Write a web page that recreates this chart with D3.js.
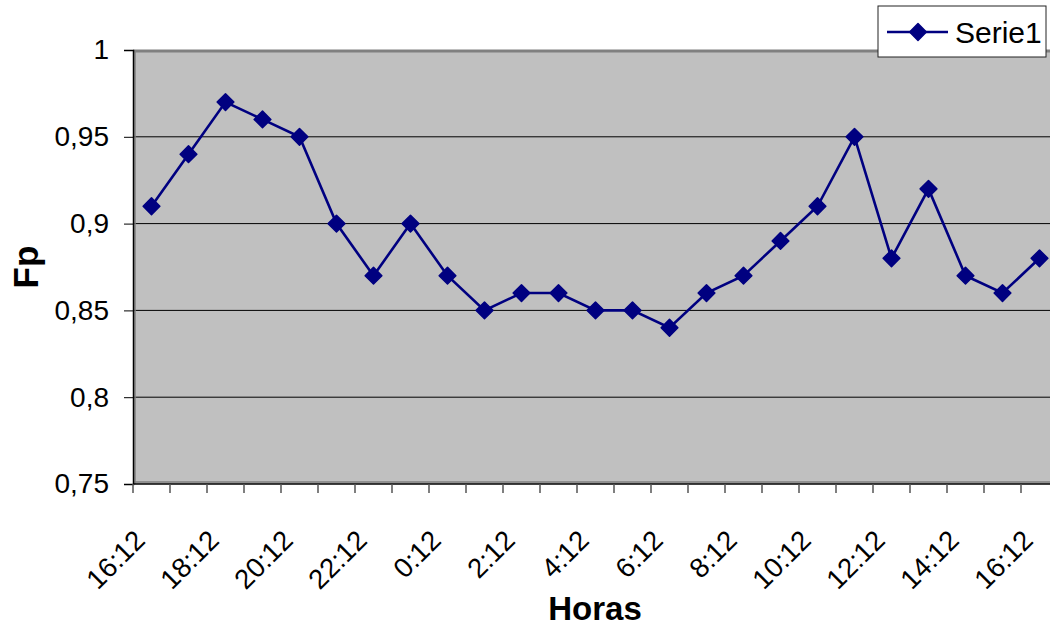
<!DOCTYPE html>
<html>
<head>
<meta charset="utf-8">
<script src="https://cdn.jsdelivr.net/npm/d3@7"></script>
<style>
  body { margin: 0; background: #fff; }
  text { font-family: "Liberation Sans", Arial, sans-serif; }
</style>
</head>
<body>
<svg id="chart" width="1050" height="629"></svg>
<script>
// hourly readings, 16:12 to 16:12 next day
const horas = ["16:12", "17:12", "18:12", "19:12", "20:12", "21:12", "22:12", "23:12",
  "0:12", "1:12", "2:12", "3:12", "4:12", "5:12", "6:12", "7:12", "8:12", "9:12",
  "10:12", "11:12", "12:12", "13:12", "14:12", "15:12", "16:12 "];
const fp = [0.91, 0.94, 0.97, 0.96, 0.95, 0.90, 0.87, 0.90, 0.87, 0.85, 0.86, 0.86,
  0.85, 0.85, 0.84, 0.86, 0.87, 0.89, 0.91, 0.95, 0.88, 0.92, 0.87, 0.86, 0.88];
const yTicks = [0.75, 0.8, 0.85, 0.9, 0.95, 1];
const serieName = "Serie1";

const svg = d3.select("#chart");
const pLeft = 133, pRight = 1058, pTop = 50, pBottom = 484;
const navy = "#000080";

const x = d3.scaleBand().domain(horas).range([pLeft, pRight]).padding(0);
const y = d3.scaleLinear().domain([0.75, 1]).range([pBottom, pTop]);

// plot area
svg.append("rect")
  .attr("x", pLeft).attr("y", pTop)
  .attr("width", pRight - pLeft).attr("height", pBottom - pTop)
  .attr("fill", "#c0c0c0");

// grid lines
svg.append("g").selectAll("line")
  .data(yTicks.filter(d => d > 0.75 && d < 1))
  .join("line")
  .attr("x1", pLeft).attr("x2", pRight)
  .attr("y1", d => y(d)).attr("y2", d => y(d))
  .attr("stroke", "#000").attr("stroke-width", 1);

// border shading like the original
svg.append("line").attr("x1", pLeft).attr("x2", pRight).attr("y1", pTop + 1).attr("y2", pTop + 1)
  .attr("stroke", "#808080").attr("stroke-width", 3);
svg.append("line").attr("x1", pLeft + 2).attr("x2", pLeft + 2).attr("y1", pTop).attr("y2", pBottom)
  .attr("stroke", "#808080").attr("stroke-width", 1.5);
svg.append("line").attr("x1", pLeft).attr("x2", pRight).attr("y1", pBottom - 2).attr("y2", pBottom - 2)
  .attr("stroke", "#808080").attr("stroke-width", 1.5);

// y axis
const yAxis = svg.append("g")
  .attr("transform", `translate(${pLeft},0)`)
  .call(d3.axisLeft(y).tickValues(yTicks).tickSize(9).tickPadding(15)
    .tickFormat(d => String(d).replace(".", ",")));
yAxis.select(".domain").attr("stroke", "#000").attr("stroke-width", 1.5);
yAxis.selectAll(".tick line").attr("stroke", "#000");
yAxis.selectAll("text").attr("font-size", 28).attr("fill", "#000")
  .attr("font-family", "Liberation Sans, Arial, sans-serif");

// x axis line and ticks at category boundaries
svg.append("line").attr("x1", pLeft).attr("x2", pRight).attr("y1", pBottom).attr("y2", pBottom)
  .attr("stroke", "#000").attr("stroke-width", 1.5);
svg.append("g").selectAll("line")
  .data(horas)
  .join("line")
  .attr("x1", d => x(d)).attr("x2", d => x(d))
  .attr("y1", pBottom).attr("y2", pBottom + 9)
  .attr("stroke", "#555").attr("stroke-width", 1.5);

// x labels, every second hour
svg.append("g").selectAll("text")
  .data(horas.filter((d, i) => i % 2 === 0))
  .join("text")
  .attr("text-anchor", "end")
  .attr("font-size", 27.5)
  .attr("transform", d => `translate(${x(d) + x.bandwidth() / 2 - 5},${pBottom + 58}) rotate(-45)`)
  .text(d => d.trim());

// axis titles
svg.append("text")
  .attr("x", 595).attr("y", 620)
  .attr("text-anchor", "middle")
  .attr("font-size", 33).attr("font-weight", "bold")
  .text("Horas");
svg.append("text")
  .attr("transform", "translate(38,267) rotate(-90)")
  .attr("text-anchor", "middle")
  .attr("font-size", 35).attr("font-weight", "bold")
  .text("Fp");

// series
const cx = d => x(d) + x.bandwidth() / 2;
const line = d3.line()
  .x((d, i) => cx(horas[i]))
  .y(d => y(d));
svg.append("path")
  .datum(fp)
  .attr("d", line)
  .attr("fill", "none")
  .attr("stroke", navy)
  .attr("stroke-width", 2.6);

const diamond = d3.symbol().type(d3.symbolSquare).size(140);
svg.append("g").selectAll("path")
  .data(fp)
  .join("path")
  .attr("d", diamond)
  .attr("transform", (d, i) => `translate(${cx(horas[i])},${y(d)}) rotate(45)`)
  .attr("fill", navy)
  .attr("stroke", navy)
  .attr("stroke-width", 1.5)
  .attr("stroke-linejoin", "round");

// legend
const lg = svg.append("g");
lg.append("rect")
  .attr("x", 878).attr("y", 6).attr("width", 168).attr("height", 51)
  .attr("fill", "#fff").attr("stroke", "#222").attr("stroke-width", 1);
lg.append("line").attr("x1", 887).attr("x2", 948).attr("y1", 32).attr("y2", 32)
  .attr("stroke", navy).attr("stroke-width", 2.6);
lg.append("path").attr("d", diamond)
  .attr("transform", "translate(918,32) rotate(45)")
  .attr("fill", navy).attr("stroke", navy).attr("stroke-width", 1.5)
  .attr("stroke-linejoin", "round");
lg.append("text")
  .attr("x", 955).attr("y", 43)
  .attr("font-size", 30)
  .text(serieName);
</script>
</body>
</html>
